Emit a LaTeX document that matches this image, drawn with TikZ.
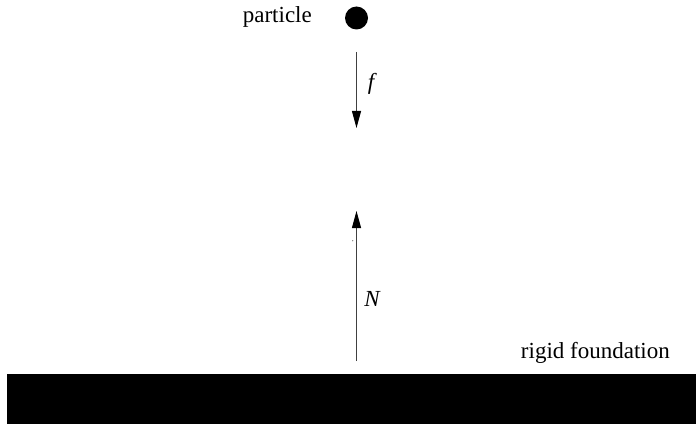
\documentclass[tikz,border=0pt]{standalone}
\usepackage{fontspec}
\setmainfont{Liberation Serif}
\usetikzlibrary{arrows.meta}
\begin{document}
\begin{tikzpicture}[x=1pt,y=1pt,
  lbl/.style={inner sep=0pt,font=\fontsize{23}{27}\selectfont},
  force/.style={draw=black!75,line width=1pt,-{Triangle[length=17pt,width=9pt,color=black]}}]
\useasboundingbox (0,0) rectangle (696,424);
% foundation
\fill[black] (7,0.5) rectangle (696,50.5);
\node[lbl,anchor=base east] (fnd) at (670,66) {rigid foundation};
% particle
\node[circle,fill=black,minimum size=23pt,inner sep=0pt] (p) at (356.5,406) {};
\node[lbl,anchor=base east] (plbl) at (312,401) {particle};
% force f
\coordinate (fs) at (356.5,372);
\coordinate (fe) at (356.5,296);
\draw[force] (fs) -- (fe);
\node[lbl,font=\fontsize{23}{27}\selectfont\itshape] (fl) at (371,340) {f};
% force N
\coordinate (ns) at (356.5,63);
\coordinate (ne) at (356.5,213);
\draw[force] (ns) -- (ne);
\node[lbl,font=\fontsize{23}{27}\selectfont\itshape] (nl) at (372,125) {N};
% tiny mark
\fill[black!60] (352.7,183.3) circle (0.6);
\end{tikzpicture}
\end{document}
